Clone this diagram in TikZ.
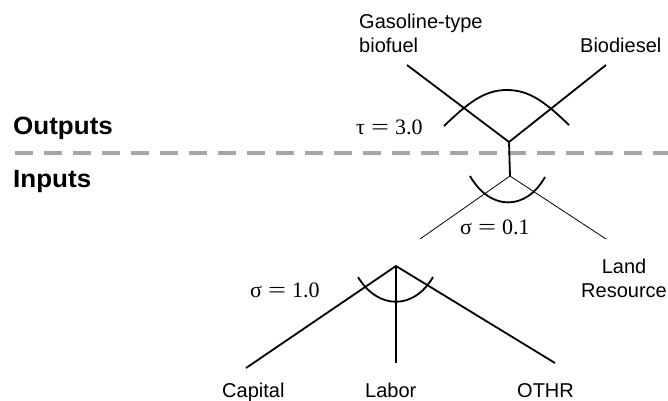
\documentclass[tikz,border=0pt]{standalone}
\usepackage{fontspec}
\setmainfont{Liberation Sans}
\newfontfamily\serifgr{Liberation Serif}
\usepackage{graphicx}
\begin{document}
\begin{tikzpicture}[x=1pt,y=-1pt,
  lbl/.style={inner sep=0pt, font=\fontsize{20}{23.5}\selectfont},
  hdr/.style={inner sep=0pt, font=\fontsize{25}{28}\selectfont\bfseries, xscale=1.04},
  par/.style={inner sep=0pt, font=\fontsize{22}{26}\selectfont\serifgr},
  thick line/.style={line width=1.8pt, black},
  thin line/.style={line width=0.8pt, black},
  sep line/.style={line width=4pt, color={rgb,255:red,166;green,166;blue,166}, dash pattern=on 18pt off 11pt}
]
\useasboundingbox (0,0) rectangle (668,400);

% separator
\coordinate (sepL) at (15,152.5);
\coordinate (sepR) at (668,152.5);
\draw[sep line] (sepL) -- (sepR);

% headers
\node[hdr, anchor=base west] (outputs) at (13,134) {Outputs};
\node[hdr, anchor=base west] (inputs) at (13,187) {Inputs};

% output tree
\coordinate (ov) at (509,142);
\coordinate (oL) at (407,65);
\coordinate (oR) at (606,65);
\draw[thick line] (oL) -- (ov) -- (oR);
\coordinate (oa1) at (444,126);
\coordinate (oapk) at (507,90);
\coordinate (oa2) at (569,125);
\draw[thick line] (oa1) .. controls (468,103) and (484,90) .. (oapk)
  .. controls (530,90) and (546,103) .. (oa2);
\coordinate (iv) at (510,176);
\draw[thick line] (ov) -- (iv);

% input top tree
\coordinate (iL) at (420,239);
\coordinate (iR) at (606,239);
\draw[thin line] (iL) -- (iv) -- (iR);
\coordinate (ia1) at (470,176);
\coordinate (ia2) at (545,177);
\draw[thick line] (ia1) .. controls (490,211) and (526,211) .. (ia2);

% lower tree
\coordinate (lv) at (396,266);
\coordinate (cap) at (246,368);
\coordinate (lab) at (396,363);
\coordinate (oth) at (555,363);
\draw[thick line] (cap) -- (lv) -- (oth);
\draw[thick line] (lv) -- (lab);
\coordinate (la1) at (358,277);
\coordinate (la2) at (433,277);
\draw[thick line] (la1) .. controls (378,310) and (414,310) .. (la2);

% labels
\node[lbl, anchor=base west, align=left] (gas) at (359,52) {Gasoline-type\\biofuel};
\node[lbl, anchor=base west] (bio) at (580,52) {Biodiesel};
\node[lbl, anchor=base, align=center] (land) at (624,297) {Land\\Resource};
\node[lbl, anchor=base west] (capital) at (222,397) {Capital};
\node[lbl, anchor=base west] (labor) at (365,397) {Labor};
\node[lbl, anchor=base west] (othr) at (517,397) {OTHR};

% elasticities
\node[par, anchor=base west] (tau) at (356,134) {τ\hspace{6pt}\scalebox{1.45}[1]{=}\hspace{6pt}3.0};
\node[par, anchor=base west] (sig1) at (460,234) {σ\hspace{6pt}\scalebox{1.45}[1]{=}\hspace{6pt}0.1};
\node[par, anchor=base west] (sig2) at (250,297) {σ\hspace{6pt}\scalebox{1.45}[1]{=}\hspace{6pt}1.0};
\end{tikzpicture}
\end{document}
